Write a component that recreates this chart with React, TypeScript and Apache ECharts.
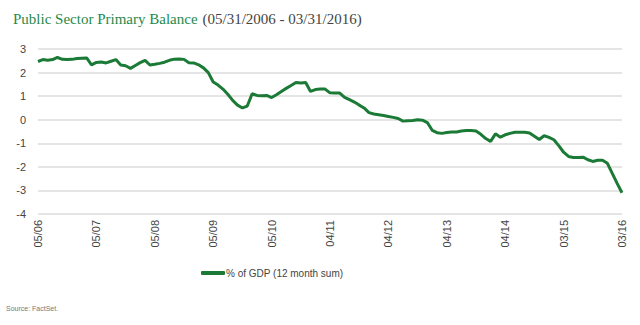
import React, { useEffect, useRef } from "react";
import * as echarts from "echarts";

const tickLabels = ["05/06", "05/07", "05/08", "05/09", "05/10", "04/11", "04/12", "04/13", "04/14", "03/15", "03/16"];
const seriesName = "% of GDP (12 month sum)";
const balance = [
  2.47, 2.55, 2.52, 2.55, 2.64, 2.56, 2.55, 2.56, 2.6, 2.61,
  2.62, 2.33, 2.43, 2.45, 2.41, 2.48, 2.55, 2.32, 2.29, 2.18,
  2.3, 2.42, 2.52, 2.32, 2.35, 2.39, 2.44, 2.52, 2.57, 2.58,
  2.56, 2.42, 2.41, 2.33, 2.2, 2.0, 1.6, 1.47, 1.3, 1.08,
  0.82, 0.62, 0.5, 0.58, 1.1, 1.03, 1.02, 1.03, 0.94, 1.06,
  1.2, 1.33, 1.45, 1.58, 1.56, 1.58, 1.2, 1.28, 1.3, 1.3,
  1.14, 1.13, 1.13, 0.95, 0.85, 0.75, 0.62, 0.5, 0.3, 0.24,
  0.21, 0.18, 0.14, 0.1, 0.05, -0.06, -0.04, -0.03, 0, -0.02,
  -0.12, -0.45, -0.55, -0.58, -0.54, -0.52, -0.52, -0.48, -0.46, -0.46,
  -0.48, -0.62, -0.8, -0.92, -0.6, -0.74, -0.64, -0.58, -0.53, -0.53,
  -0.53, -0.56, -0.7, -0.84, -0.68, -0.75, -0.85, -1.1, -1.38, -1.56,
  -1.6, -1.6, -1.59, -1.7, -1.77, -1.72, -1.72, -1.85, -2.28, -2.7,
  -3.1,
];

export default function App() {
  const ref = useRef<HTMLDivElement>(null);
  useEffect(() => {
    if (!ref.current) return;
    const chart = echarts.init(ref.current, null, { renderer: "svg" });
    const green = "#1a7a36";
    chart.setOption({
      animation: false,
      title: {
        text: "{a|Public Sector Primary Balance} {b|(05/31/2006 - 03/31/2016)}",
        left: 8,
        top: 5,
        textStyle: {
          rich: {
            a: { fontFamily: "Liberation Serif", fontSize: 15, fontWeight: "normal", color: "#1f8a4c" },
            b: { fontFamily: "Liberation Serif", fontSize: 15, fontWeight: "normal", color: "#444" },
          },
        },
      },
      graphic: [
        {
          type: "text",
          left: 6,
          top: 305,
          style: { text: "Source: FactSet.", font: "7px 'Liberation Sans'", fill: "#777" },
        },
      ],
      legend: {
        left: 196,
        top: 263,
        icon: "roundRect",
        itemWidth: 24,
        itemHeight: 4,
        itemGap: 2,
        textStyle: { fontFamily: "Liberation Sans", fontSize: 10, color: "#444", padding: [0, 0, 0, -4] },
        data: [seriesName],
      },
      grid: { left: 38, right: 18, top: 49, bottom: 111, containLabel: false },
      xAxis: {
        type: "value",
        min: 0,
        max: 120,
        interval: 12,
        axisLine: { show: false },
        axisTick: { show: false },
        splitLine: { show: false },
        axisLabel: {
          rotate: 90,
          margin: 6,
          fontFamily: "Liberation Sans",
          fontSize: 11,
          color: "#444",
          formatter: (v: number) => (v % 12 === 0 ? tickLabels[v / 12] ?? "" : ""),
        },
      },
      yAxis: {
        type: "value",
        min: -4,
        max: 3,
        interval: 1,
        axisLine: { show: false },
        axisTick: { show: false },
        axisLabel: { fontFamily: "Liberation Sans", fontSize: 11, color: "#444", margin: 12 },
        splitLine: { lineStyle: { color: "#dcdcdc", width: 1.5 } },
      },
      series: [
        {
          name: seriesName,
          type: "line",
          data: balance.map((v, i) => [i, v]),
          showSymbol: false,
          symbol: "none",
          lineStyle: { color: green, width: 3 },
          itemStyle: { color: green },
        },
      ],
    });
    return () => chart.dispose();
  }, []);
  return <div ref={ref} style={{ width: 640, height: 325, position: "absolute", left: 0, top: 0 }} />;
}
